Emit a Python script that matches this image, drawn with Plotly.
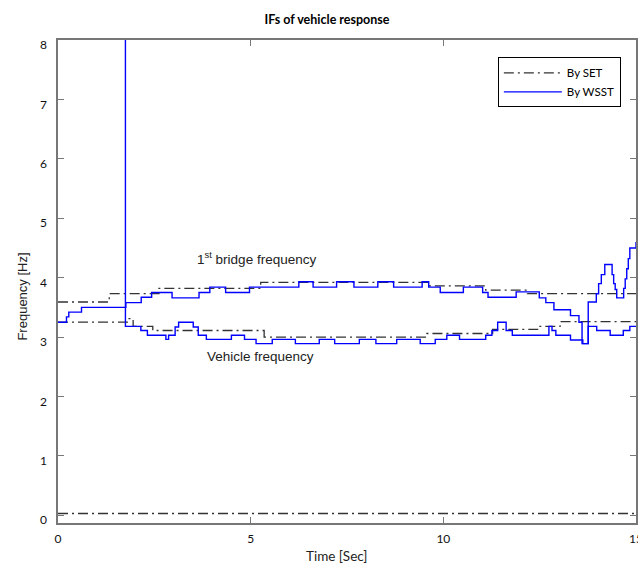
import plotly.graph_objects as go

# ---- Instantaneous frequencies (time in s, frequency in Hz), stepwise ----
# SET ridges
set_bridge_t = [0.00, 1.33, 2.62, 5.26, 9.65, 11.10, 12.18, 15.00]
set_bridge_f = [3.59, 3.73, 3.82, 3.92, 3.86, 3.79, 3.73, 3.73]

set_vehicle_t = [0.00, 1.80, 1.95, 2.46, 5.35, 9.57, 11.28, 12.48, 13.03, 15.00]
set_vehicle_f = [3.25, 3.31, 3.18, 3.11, 3.00, 3.06, 3.13, 3.18, 3.26, 3.26]

set_zero_t = [0.00, 15.00]
set_zero_f = [0.03, 0.03]

# WSST ridges
wsst_bridge_t = [0.00, 0.22, 0.28, 0.61, 1.76, 2.16, 2.43, 2.96, 3.66, 3.94,
                 4.35, 4.97, 6.25, 6.62, 7.23, 7.68, 8.30, 8.71, 9.45, 9.62,
                 9.92, 10.52, 11.02, 11.16, 11.89, 12.49, 12.66, 12.87, 13.30, 13.52,
                 13.60, 13.76, 13.97, 14.03, 14.10, 14.19, 14.38, 14.42, 14.46, 14.50,
                 14.68, 14.72, 14.76, 14.80, 14.84, 15.00]
wsst_bridge_f = [3.25, 3.34, 3.42, 3.50, 3.58, 3.67, 3.75, 3.66, 3.75, 3.84,
                 3.75, 3.84, 3.93, 3.84, 3.93, 3.84, 3.93, 3.84, 3.93, 3.84,
                 3.75, 3.84, 3.75, 3.67, 3.76, 3.66, 3.58, 3.46, 3.36, 3.25,
                 2.89, 3.59, 3.73, 3.90, 4.05, 4.22, 4.05, 3.90, 3.80, 3.66,
                 3.82, 3.98, 4.15, 4.32, 4.50, 4.60]

wsst_vehicle_t = [0.00, 1.75, 2.15, 2.32, 2.80, 2.87, 3.04, 3.13, 3.51, 3.64,
                  3.85, 4.50, 4.84, 5.14, 5.56, 6.16, 6.78, 7.18, 7.82, 8.25,
                  8.79, 9.40, 9.79, 10.09, 10.42, 11.10, 11.26, 11.41, 11.63, 11.79,
                  12.74, 12.82, 12.92, 13.30, 13.62, 13.76, 13.98, 14.33, 14.67, 14.84,
                  15.00]
wsst_vehicle_f = [9.50, 3.18, 3.11, 3.03, 2.96, 3.03, 3.17, 3.25, 3.17, 3.03,
                  2.96, 3.03, 2.96, 2.89, 2.96, 2.89, 2.96, 2.89, 2.96, 2.89,
                  2.96, 2.89, 2.96, 3.03, 2.96, 3.03, 3.11, 3.25, 3.11, 3.03,
                  3.18, 3.11, 3.03, 2.95, 2.89, 3.18, 3.11, 3.03, 3.11, 3.18,
                  3.18]

x_ticks = [0, 5, 10, 15]
y_ticks = [0, 1, 2, 3, 4, 5, 6, 7, 8]

SET_COLOR = "#333333"
WSST_COLOR = "#0000ff"
SET_DASH = "10px,4px,2px,4px"
AXIS_COLOR = "#777777"
CAL = "Lato"
ARIAL = "Liberation Sans"

fig = go.Figure()

set_series = [(set_bridge_t, set_bridge_f, True),
              (set_vehicle_t, set_vehicle_f, False),
              (set_zero_t, set_zero_f, False)]
for t, f, show in set_series:
    fig.add_trace(go.Scatter(
        x=t, y=f, mode="lines", name="By SET", legendgroup="set",
        showlegend=show, line=dict(color=SET_COLOR, width=1.3, dash=SET_DASH, shape="hv"),
    ))

wsst_series = [(wsst_bridge_t, wsst_bridge_f, True),
               (wsst_vehicle_t, wsst_vehicle_f, False)]
for t, f, show in wsst_series:
    fig.add_trace(go.Scatter(
        x=t, y=f, mode="lines", name="By WSST", legendgroup="wsst",
        showlegend=show, line=dict(color=WSST_COLOR, width=1.4, shape="hv"),
    ))

axis_common = dict(
    showgrid=False, zeroline=False, showline=True, linecolor=AXIS_COLOR,
    linewidth=1.5, mirror="ticks", ticks="inside", ticklen=6, tickwidth=1,
    tickcolor=AXIS_COLOR, tickfont=dict(family=CAL, size=12, color="#111111"),
    ticklabeloverflow="allow",
)

fig.update_xaxes(range=[0, 15], tickvals=x_ticks, ticklabelstandoff=4, **axis_common)
fig.update_yaxes(range=[-0.13, 8], tickvals=y_ticks, ticklabelstandoff=7,
                 ticklabelshift=5, **axis_common)

fig.update_layout(
    width=645, height=565,
    margin=dict(l=58, r=2, t=40, b=42),
    plot_bgcolor="white", paper_bgcolor="white",
    title=dict(text="<b>IFs of vehicle response</b>", xref="container", x=327 / 645,
               xanchor="center", yref="container", y=1 - 20 / 565, yanchor="middle",
               font=dict(family=CAL, size=12.5, color="black")),
    legend=dict(x=0.761, y=0.964, xanchor="left", yanchor="top",
                bordercolor="black", borderwidth=1, bgcolor="white",
                font=dict(family=CAL, size=11.5, color="black"),
                itemwidth=58, tracegroupgap=0),
    annotations=[
        dict(text="1<sup>st</sup> bridge frequency", x=3.56, y=4.33, xref="x", yref="y",
             xanchor="left", yanchor="middle", showarrow=False,
             font=dict(family=ARIAL, size=13.5, color="#222222")),
        dict(text="Vehicle frequency", x=3.82, y=2.68, xref="x", yref="y",
             xanchor="left", yanchor="middle", showarrow=False,
             font=dict(family=ARIAL, size=13.5, color="#222222")),
        dict(text="Time [Sec]", x=(340 - 58) / 585, y=(522.7 - 556) / 482.7,
             xref="paper", yref="paper", xanchor="center", yanchor="middle",
             showarrow=False, font=dict(family=CAL, size=13.5, color="#222222")),
        dict(text="Frequency [Hz]", x=(22.5 - 58) / 585, y=(522.7 - 296.5) / 482.7,
             xref="paper", yref="paper", xanchor="center", yanchor="middle",
             textangle=-90, showarrow=False,
             font=dict(family=ARIAL, size=13, color="#222222")),
    ],
)

fig.write_html("out.html")
